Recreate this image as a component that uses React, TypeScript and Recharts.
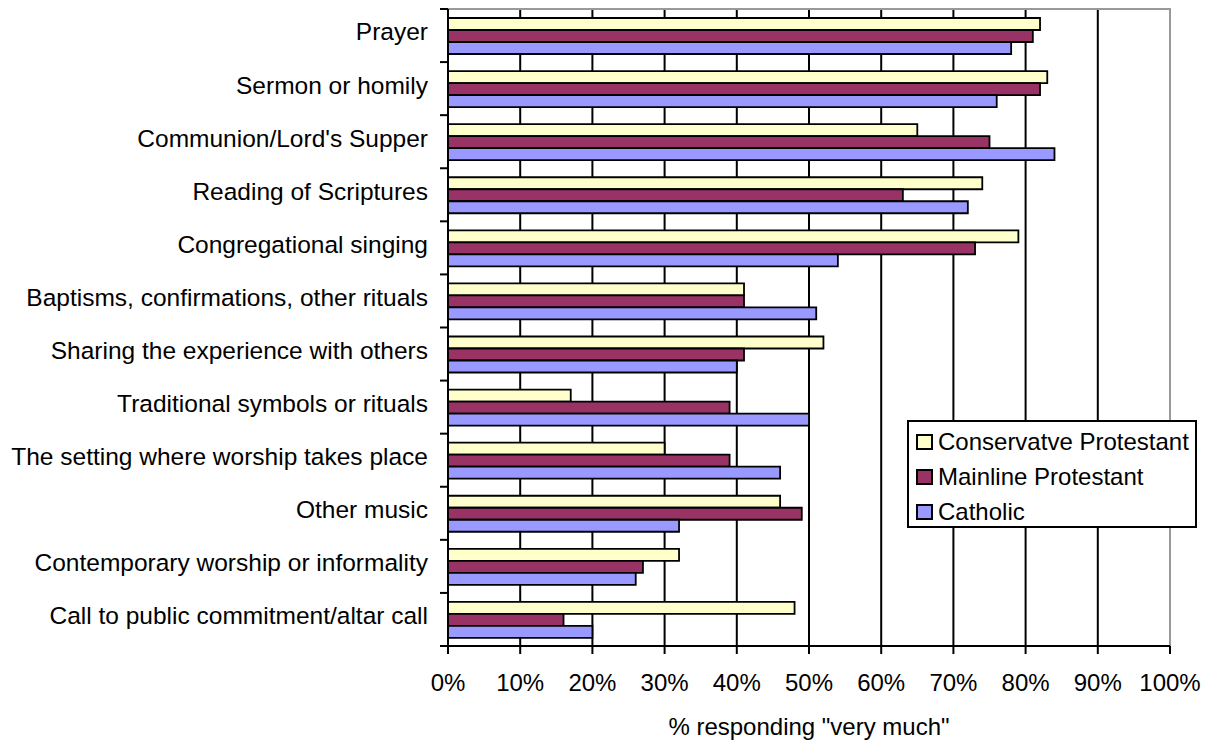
import React from "react";
import {
  BarChart,
  Bar,
  XAxis,
  YAxis,
  CartesianGrid,
  Legend,
  ReferenceArea,
  Label,
} from "recharts";

const categories = [
  "Prayer",
  "Sermon or homily",
  "Communion/Lord's Supper",
  "Reading of Scriptures",
  "Congregational singing",
  "Baptisms, confirmations, other rituals",
  "Sharing the experience with others",
  "Traditional symbols or rituals",
  "The setting where worship takes place",
  "Other music",
  "Contemporary worship or informality",
  "Call to public commitment/altar call",
];
const conservative = [82, 83, 65, 74, 79, 41, 52, 17, 30, 46, 32, 48];
const mainline = [81, 82, 75, 63, 73, 41, 41, 39, 39, 49, 27, 16];
const catholic = [78, 76, 84, 72, 54, 51, 40, 50, 46, 32, 26, 20];
const xTicks = [0, 10, 20, 30, 40, 50, 60, 70, 80, 90, 100];

const seriesNames = ["Conservatve Protestant", "Mainline Protestant", "Catholic"];
const seriesColors = ["#FFFFCC", "#993366", "#9999FF"];

const data = categories.map((c, i) => ({
  name: c,
  cons: conservative[i],
  main: mainline[i],
  cath: catholic[i],
}));

const FONT = "'Liberation Sans', Arial, sans-serif";
const FS = 24;
const YFS = 24.5;
const TICK_SIZE = 8;
const TICK_MARGIN = 12;

const YTick = (props: any) => {
  const { x, y, payload, index } = props;
  const half = payload && typeof payload.offset === "number" && payload.offset > 0 ? payload.offset : 26.5;
  const lx2 = x + TICK_MARGIN + TICK_SIZE;
  const lx1 = x + TICK_MARGIN;
  return (
    <g>
      <line x1={lx1} x2={lx2} y1={y - half} y2={y - half} stroke="#000" strokeWidth={2} />
      {index === categories.length - 1 && (
        <line x1={lx1} x2={lx2} y1={y + half} y2={y + half} stroke="#000" strokeWidth={2} />
      )}
      <text
        x={x}
        y={y}
        dy="0.2em"
        textAnchor="end"
        fill="#000"
        fontSize={YFS}
        fontFamily={FONT}
      >
        {payload.value}
      </text>
    </g>
  );
};

const LegendBox = () => (
  <div
    style={{
      width: 290,
      height: 108,
      border: "2px solid #000",
      background: "#fff",
      boxSizing: "border-box",
      paddingTop: 2,
      paddingLeft: 7,
      fontFamily: FONT,
      fontSize: FS,
      color: "#000",
      lineHeight: 1,
    }}
  >
    {seriesNames.map((n, i) => (
      <div key={n} style={{ display: "flex", alignItems: "center", height: 35 }}>
        <span
          style={{
            display: "inline-block",
            width: 13,
            height: 12,
            border: "2px solid #000",
            background: seriesColors[i],
            marginRight: 5,
            flex: "none",
          }}
        />
        <span style={{ whiteSpace: "nowrap" }}>{n}</span>
      </div>
    ))}
  </div>
);

export default function App() {
  return (
    <div style={{ position: "absolute", left: 0, top: 0, width: 1206, height: 740, background: "#fff" }}>
      <BarChart
        width={1206}
        height={740}
        data={data}
        layout="vertical"
        margin={{ top: 9, right: 36, bottom: 0, left: 0 }}
        barCategoryGap="17%"
        barGap={0}
      >
        <CartesianGrid horizontal={false} vertical={true} stroke="#000" strokeWidth={2} />
        <ReferenceArea x1={0} x2={100} fill="none" fillOpacity={0} stroke="#999" strokeWidth={2} ifOverflow="visible" />
        <XAxis
          type="number"
          domain={[0, 100]}
          ticks={xTicks}
          interval={0}
          tickFormatter={(v: number) => `${v}%`}
          tick={{ fill: "#000", fontSize: FS, fontFamily: FONT }}
          tickSize={TICK_SIZE}
          tickMargin={20}
          axisLine={{ stroke: "#000", strokeWidth: 2 }}
          tickLine={{ stroke: "#000", strokeWidth: 2 }}
          height={94}
        >
          <Label
            value={'% responding "very much"'}
            position="insideBottom"
            offset={5}
            style={{ fill: "#000", fontSize: FS, fontFamily: FONT }}
          />
        </XAxis>
        <YAxis
          type="category"
          dataKey="name"
          width={448}
          interval={0}
          tick={<YTick />}
          tickLine={false}
          tickSize={TICK_SIZE}
          tickMargin={TICK_MARGIN}
          axisLine={{ stroke: "#000", strokeWidth: 2 }}
        />
        <Bar dataKey="cons" name={seriesNames[0]} fill={seriesColors[0]} stroke="#000" strokeWidth={1.8} isAnimationActive={false} />
        <Bar dataKey="main" name={seriesNames[1]} fill={seriesColors[1]} stroke="#000" strokeWidth={1.8} isAnimationActive={false} />
        <Bar dataKey="cath" name={seriesNames[2]} fill={seriesColors[2]} stroke="#000" strokeWidth={1.8} isAnimationActive={false} />
        <Legend
          layout="vertical"
          align="center"
          verticalAlign="middle"
          content={<LegendBox />}
          wrapperStyle={{ position: "absolute", left: 907, top: 420, width: 290, height: 108 }}
        />
      </BarChart>
    </div>
  );
}
